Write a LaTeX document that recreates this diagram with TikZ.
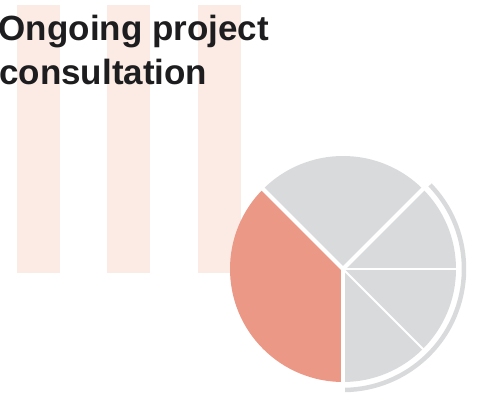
\documentclass[tikz,border=0pt]{standalone}
\usepackage{fontspec}
\setmainfont{Liberation Sans}

\definecolor{stripe}{HTML}{FBEBE4}
\definecolor{slicered}{HTML}{EC9886}
\definecolor{slicegrey}{HTML}{D9DADC}
\definecolor{ink}{HTML}{1D1D1F}

\begin{document}
\begin{tikzpicture}[x=1pt, y=1pt]
        \useasboundingbox (0,0) rectangle (478,398);

        \fill[stripe] (17,125) rectangle (60,393);
        \fill[stripe] (107,125) rectangle (150,393);
        \fill[stripe] (198,125) rectangle (241,393);

        \node[anchor=base west, inner sep=0, text=ink, font=\bfseries\fontsize{35}{42}\selectfont] (titletop) at (-1.5,357) {Ongoing project};
        \node[anchor=base west, inner sep=0, text=ink, font=\bfseries\fontsize{35}{42}\selectfont] (titlebottom) at (-1,313) {consultation};

        \coordinate (centre) at (343,129);
        \fill[slicered] (centre) -- ++(135:113) arc[start angle=135, end angle=270, radius=113] -- cycle;
        \fill[slicegrey] (centre) -- ++(-90:113) arc[start angle=-90, end angle=135, radius=113] -- cycle;

        \draw[white, line width=4] (centre) -- ++(45:116);
        \draw[white, line width=4] (centre) -- ++(135:116);
        \draw[white, line width=4] (centre) -- ++(270:116);
        \draw[white, line width=2] (centre) -- ++(0:116);
        \draw[white, line width=2] (centre) -- ++(-45:116);

        \draw[slicegrey, line width=4.5] ([shift={(44:121)}]centre) arc[start angle=44, end angle=-89, radius=121];
    \end{tikzpicture}
\end{document}
